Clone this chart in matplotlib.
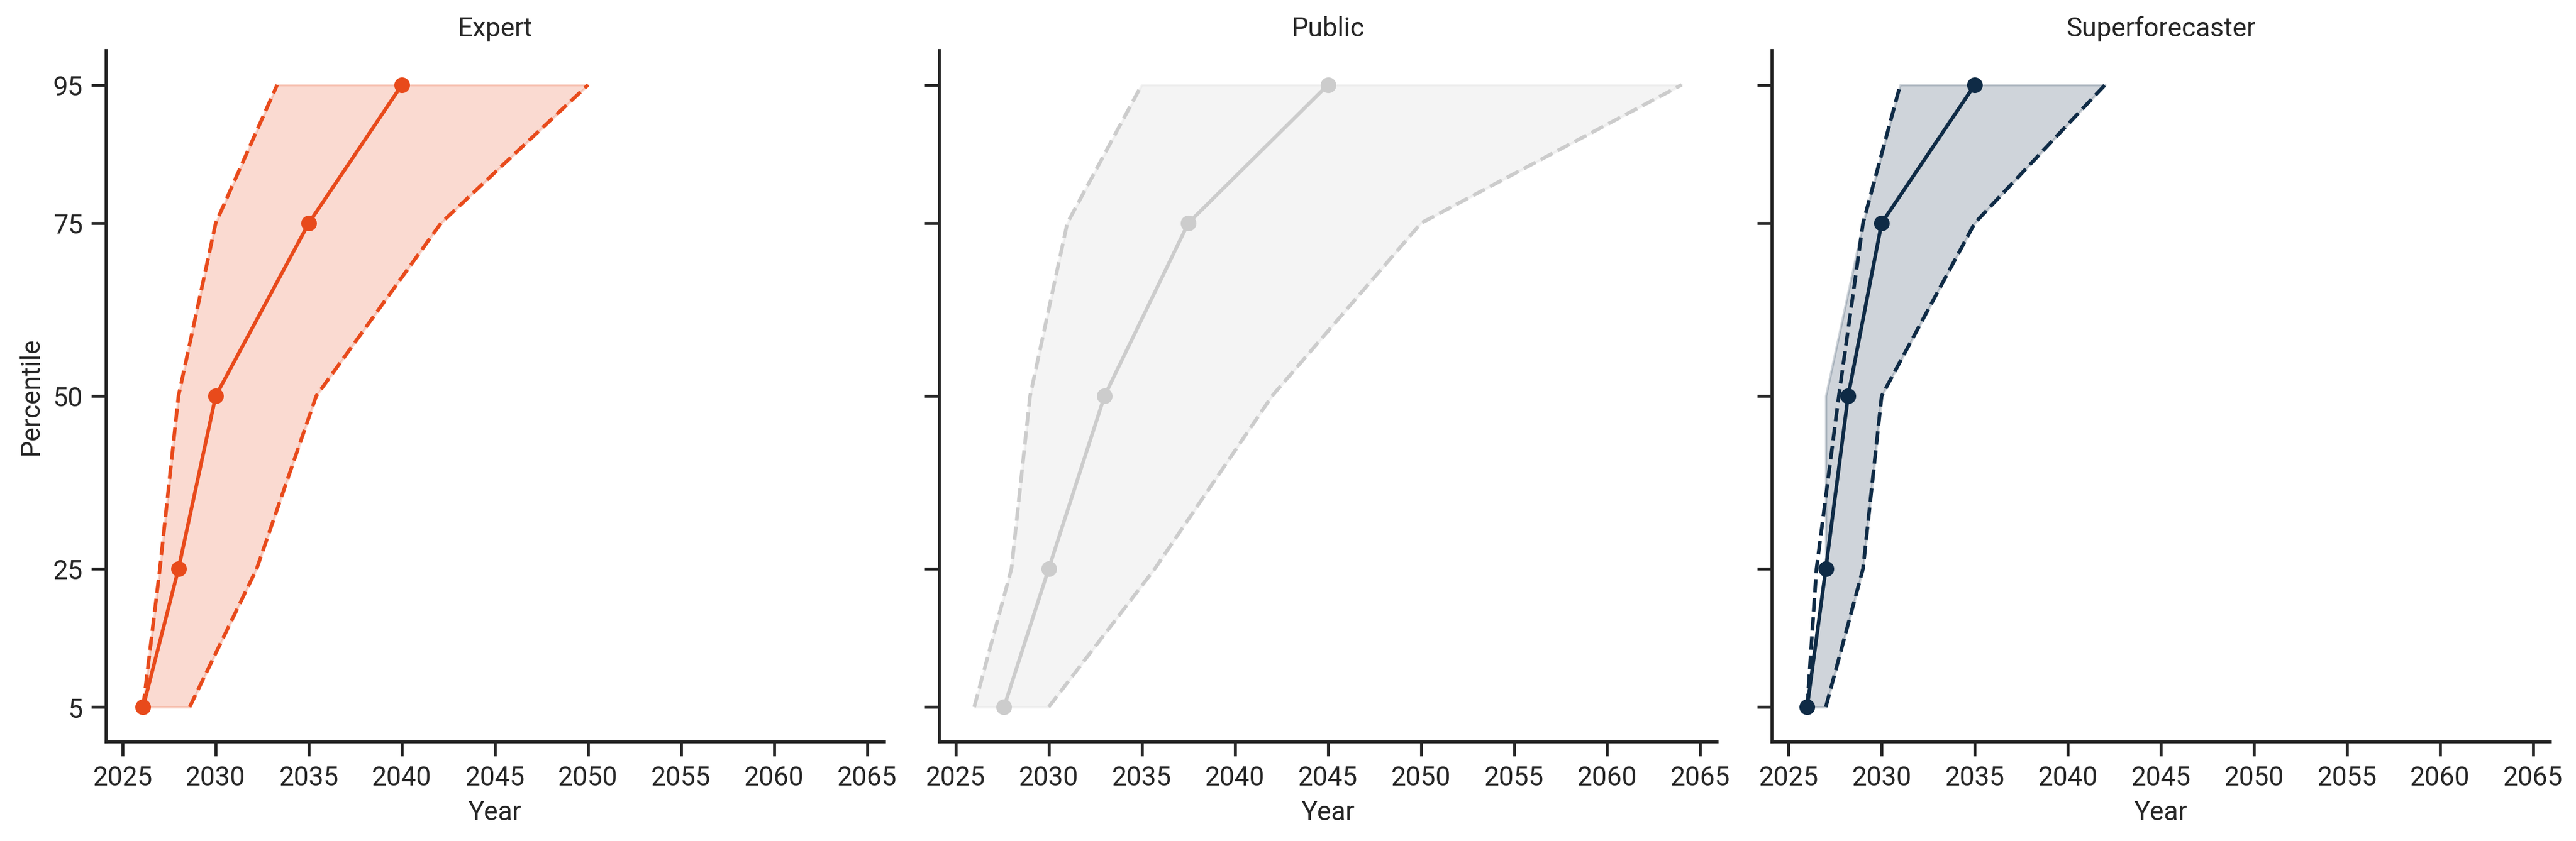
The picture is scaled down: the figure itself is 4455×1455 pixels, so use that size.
import numpy as np
import matplotlib
matplotlib.use("Agg")
import matplotlib.pyplot as plt
import seaborn as sns

# percentile levels (y axis)
percentiles = [5, 25, 50, 75, 95]

# year estimates per group
expert_median = [2026.1, 2028.0, 2030.0, 2035.0, 2040.0]
expert_low = [2026.1, 2027.0, 2028.0, 2030.0, 2033.3]
expert_high = [2028.6, 2032.2, 2035.4, 2042.1, 2050.0]

public_median = [2027.6, 2030.0, 2033.0, 2037.5, 2045.0]
public_low = [2026.0, 2028.0, 2029.0, 2031.0, 2035.0]
public_high = [2030.0, 2035.7, 2042.0, 2050.0, 2064.0]

super_median = [2026.0, 2027.0, 2028.2, 2030.0, 2035.0]
super_low = [2026.0, 2026.5, 2027.7, 2029.0, 2031.0]
super_high = [2027.0, 2029.0, 2030.0, 2035.0, 2042.0]
super_band_low = [2026.0, 2027.0, 2027.0, 2029.0, 2031.0]

groups = ["Expert", "Public", "Superforecaster"]
colors = ["#E84A1B", "#CCCCCC", "#0F2B46"]

sns.set_theme(style="ticks", context="notebook")
plt.rcParams["font.family"] = ["Roboto", "DejaVu Sans"]

panels = [
    (expert_median, expert_low, expert_high, expert_low),
    (public_median, public_low, public_high, public_low),
    (super_median, super_low, super_high, super_band_low),
]

fig, axes = plt.subplots(1, 3, figsize=(14.85, 4.853), dpi=300, sharex=True, sharey=True)
fig.subplots_adjust(left=0.0411, right=0.9899, bottom=0.1181, top=0.9396, wspace=0.0704)

for ax, name, col, (med, lo, hi, band_lo) in zip(axes, groups, colors, panels):
    ax.fill_betweenx(percentiles, band_lo, hi, color=col, alpha=0.2)
    ax.plot(lo, percentiles, "--", color=col, lw=1.5)
    ax.plot(hi, percentiles, "--", color=col, lw=1.5)
    ax.plot(med, percentiles, "-o", color=col, lw=1.5, markersize=5.5)
    ax.set_title(name, fontsize=11)
    ax.set_xlabel("Year", fontsize=11)
    ax.tick_params(labelsize=11)

axes[0].set_ylabel("Percentile", fontsize=11)
axes[0].set_yticks(percentiles)
axes[0].set_ylim(0, 100)
axes[0].set_xticks(np.arange(2025, 2066, 5))
sns.despine()

fig.savefig("out.png", dpi=300)
